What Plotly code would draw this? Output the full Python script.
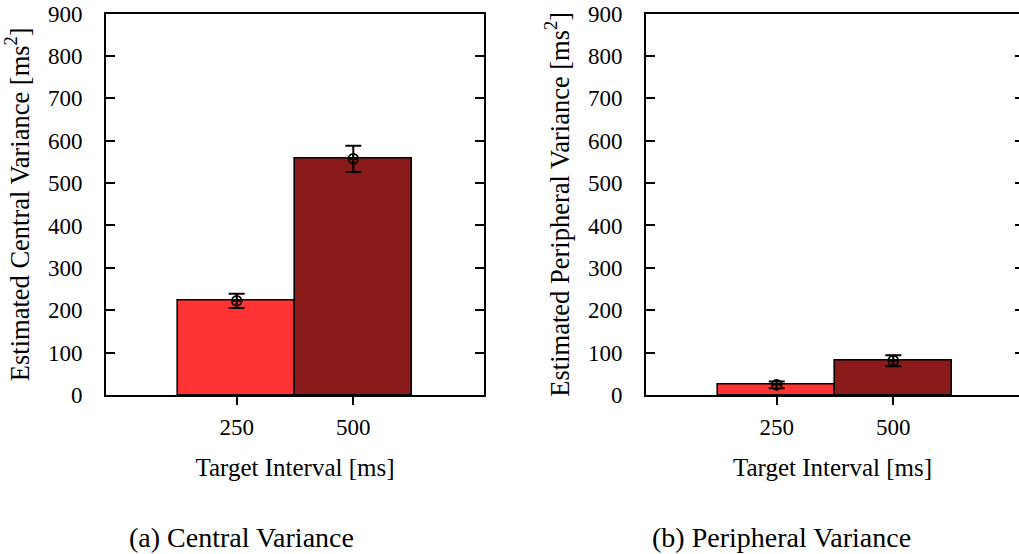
import plotly.graph_objects as go

# ---- data ----
intervals = ["250", "500"]            # target interval [ms]
central_mean = [222, 557]             # estimated central variance [ms^2]
central_err = [17, 31]
peripheral_mean = [24, 81]            # estimated peripheral variance [ms^2]
peripheral_err = [8, 13]
bar_colors = ["#FF3333", "#8B1A1A"]
y_ticks = [0, 100, 200, 300, 400, 500, 600, 700, 800, 900]

W, H = 1019, 554
FONT = "'Liberation Serif', 'Times New Roman', 'DejaVu Serif', serif"
pos = list(range(len(intervals)))

fig = go.Figure()

def add_panel(xa, ya, means, errs):
    fig.add_trace(go.Bar(
        x=pos, y=means, width=1, xaxis=xa, yaxis=ya,
        marker=dict(color=bar_colors, line=dict(color="black", width=1.6)),
        showlegend=False, hoverinfo="skip"))
    fig.add_trace(go.Scatter(
        x=pos, y=means, xaxis=xa, yaxis=ya, mode="markers",
        marker=dict(symbol="circle-cross-open", size=10, color="black",
                    line=dict(width=1.6, color="black")),
        error_y=dict(type="data", array=errs, visible=True,
                     color="black", thickness=2, width=8),
        showlegend=False, hoverinfo="skip"))

add_panel("x", "y", central_mean, central_err)
add_panel("x2", "y2", peripheral_mean, peripheral_err)
# helper trace so the right-hand tick axis of panel (b) is drawn
fig.add_trace(go.Scatter(x=[None], y=[None], xaxis="x2", yaxis="y3",
                         showlegend=False, hoverinfo="skip"))

ybot = 1 - 395 / H
ytop = 1 - 13.5 / H

tickfont = dict(family=FONT, size=23, color="black")
titlefont = dict(family=FONT, size=25, color="black")
ytitlefont = dict(family=FONT, size=26.5, color="black")

xcommon = dict(
    tickvals=pos, ticktext=intervals, ticks="outside", ticklen=8,
    tickwidth=1.6, tickcolor="black", showline=True, linecolor="black",
    linewidth=2, mirror=True, showgrid=False, zeroline=False,
    tickfont=tickfont, ticklabelstandoff=2, automargin=False,
    title=dict(text="Target Interval [ms]", font=titlefont, standoff=20),
)
ycommon = dict(
    range=[0, 900], tickvals=y_ticks, ticks="inside", ticklen=9,
    tickwidth=1.6, tickcolor="black", showline=True, linecolor="black",
    linewidth=2, showgrid=False, zeroline=False, tickfont=tickfont,
    ticklabelstandoff=17, domain=[ybot, ytop], automargin=False,
)

fig.update_layout(
    width=W, height=H, margin=dict(l=0, r=0, t=0, b=0, autoexpand=False),
    paper_bgcolor="white", plot_bgcolor="white", bargap=0,
    font=dict(family=FONT, color="black"),
    xaxis=dict(domain=[106 / W, 484 / W], range=[-1.121, 2.121],
               anchor="y", **xcommon),
    yaxis=dict(anchor="x", mirror="ticks",
               title=dict(text="Estimated Central Variance [ms<sup>2</sup>]",
                          font=ytitlefont, standoff=11),
               **ycommon),
    xaxis2=dict(domain=[646 / W, 1.0], range=[-1.121, 2.078],
                anchor="y2", **xcommon),
    yaxis2=dict(anchor="x2", mirror=False,
                title=dict(text="Estimated Peripheral Variance [ms<sup>2</sup>]",
                           font=ytitlefont, standoff=11),
                **ycommon),
    yaxis3=dict(overlaying="y2", anchor="free", position=1.0, side="right",
                range=[0, 900], tickvals=y_ticks, ticks="inside", ticklen=4,
                tickwidth=1.6, tickcolor="black", showline=False,
                showgrid=False, zeroline=False, showticklabels=False,
                automargin=False),
    annotations=[
        dict(text="(a) Central Variance", x=241.5 / W, y=1 - 537 / H,
             xref="paper", yref="paper", showarrow=False,
             xanchor="center", yanchor="middle",
             font=dict(family=FONT, size=28, color="black")),
        dict(text="(b) Peripheral Variance", x=781.7 / W, y=1 - 537 / H,
             xref="paper", yref="paper", showarrow=False,
             xanchor="center", yanchor="middle",
             font=dict(family=FONT, size=28, color="black")),
    ],
)

fig.write_html(
    "out.html",
    config={"displayModeBar": False},
    post_script="document.body.style.margin='0';"
                "document.body.style.overflow='hidden';",
)
